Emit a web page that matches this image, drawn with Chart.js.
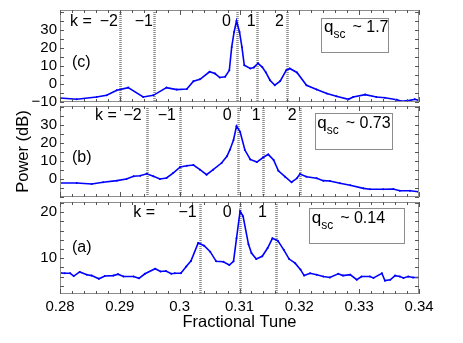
<!DOCTYPE html>
<html>
<head>
<meta charset="utf-8">
<script src="https://cdn.jsdelivr.net/npm/chart.js@4/dist/chart.umd.min.js"></script>
<style>
  html, body { margin: 0; padding: 0; background: #fff; }
  #wrap { position: relative; width: 463px; height: 343px; }
  canvas { position: absolute; left: 0; }
</style>
</head>
<body>
<div id="wrap">
  <canvas id="panelC" width="463" height="112" style="top:0px"></canvas>
  <canvas id="panelB" width="463" height="104" style="top:100px"></canvas>
  <canvas id="panelA" width="463" height="147" style="top:196px"></canvas>
</div>
<script>
// x axis
const xTickValues = [0.28, 0.29, 0.30, 0.31, 0.32, 0.33, 0.34];
const xTickLabels = ['0.28', '0.29', '0.3', '0.31', '0.32', '0.33', '0.34'];

// panel (c), q_sc ~ 1.7
const tuneC = [0.2800, 0.2828, 0.2861, 0.2878, 0.2895, 0.2914, 0.2939, 0.2956, 0.2978, 0.2995,
  0.3012, 0.3023, 0.3034, 0.3050, 0.3059, 0.3067, 0.3076, 0.3083, 0.3087, 0.3091,
  0.3095, 0.3100, 0.3104, 0.3108, 0.3118, 0.3124, 0.3131, 0.3138, 0.3144, 0.3151,
  0.3159, 0.3168, 0.3178, 0.3184, 0.3196, 0.3212, 0.3229, 0.3246, 0.3262, 0.3282,
  0.3290, 0.3310, 0.3329, 0.3343, 0.3363, 0.3371, 0.3385, 0.3393, 0.3400];
const powerC = [-7.8, -8.5, -7.2, -6.3, -3.5, -2.0, -7.2, -6.3, -2.0, -3.1,
  -2.8, 1.5, 2.6, 6.8, 5.8, 3.6, 4.0, 7.6, 20.6, 28.9,
  35.0, 28.9, 20.6, 10.4, 8.6, 9.2, 11.5, 9.4, 6.5, 2.1,
  -0.7, 1.6, 7.6, 8.6, 6.4, -0.7, -3.1, -5.3, -6.8, -8.5,
  -7.2, -5.9, -7.2, -7.6, -8.7, -9.6, -9.1, -8.5, -9.1];
const yTicksC = [-10, 0, 10, 20, 30];
const kTunesC = [0.2900, 0.2957, 0.3095, 0.3129, 0.3180];
const kNamesC = ['−2', '−1', '0', '1', '2'];
const qC = '1.7';

// panel (b), q_sc ~ 0.73
const tuneB = [0.2800, 0.2828, 0.2853, 0.2872, 0.2895, 0.2911, 0.2923, 0.2934, 0.2945, 0.2956,
  0.2967, 0.2978, 0.2989, 0.3001, 0.3012, 0.3023, 0.3034, 0.3045, 0.3056, 0.3070,
  0.3079, 0.3084, 0.3090, 0.3095, 0.3101, 0.3109, 0.3118, 0.3129, 0.3140, 0.3148,
  0.3157, 0.3165, 0.3176, 0.3187, 0.3196, 0.3201, 0.3212, 0.3229, 0.3240, 0.3251,
  0.3268, 0.3285, 0.3307, 0.3318, 0.3340, 0.3357, 0.3368, 0.3385, 0.3399];
const powerB = [-2.2, -2.2, -2.8, -1.8, -0.9, 0.0, 1.5, 1.8, 2.9, 1.5,
  0.0, 0.6, 3.3, 6.7, 7.4, 7.8, 5.2, 2.4, 5.2, 8.9,
  12.6, 16.3, 21.7, 29.4, 26.3, 16.1, 10.9, 9.4, 12.1, 13.7,
  10.6, 4.6, 1.3, -1.8, 0.4, 2.8, 1.3, 0.4, -0.9, -1.1,
  -2.4, -3.5, -5.2, -5.7, -5.7, -5.6, -6.5, -6.5, -7.1];
const yTicksB = [0, 10, 20, 30];
const kTunesB = [0.2945, 0.3001, 0.3097, 0.3139, 0.3201];
const kNamesB = ['−2', '−1', '0', '1', '2'];
const qB = '0.73';

// panel (a), q_sc ~ 0.14
const tuneA = [0.2800, 0.2808, 0.2817, 0.2823, 0.2833, 0.2845, 0.2853, 0.2865, 0.2875, 0.2889,
  0.2897, 0.2906, 0.2923, 0.2932, 0.2942, 0.2959, 0.2968, 0.2977, 0.2986, 0.2992,
  0.3002, 0.3011, 0.3019, 0.3031, 0.3041, 0.3051, 0.3061, 0.3073, 0.3083, 0.3090,
  0.3095, 0.3101, 0.3106, 0.3115, 0.3120, 0.3128, 0.3138, 0.3147, 0.3155, 0.3164,
  0.3174, 0.3183, 0.3193, 0.3202, 0.3208, 0.3218, 0.3229, 0.3240, 0.3251, 0.3265,
  0.3273, 0.3285, 0.3296, 0.3304, 0.3318, 0.3324, 0.3338, 0.3343, 0.3352, 0.3360,
  0.3368, 0.3374, 0.3382, 0.3390, 0.3400];
const powerA = [6.8, 6.7, 6.7, 6.1, 7.0, 6.4, 6.2, 5.5, 6.1, 6.2,
  6.5, 6.0, 6.0, 5.6, 6.6, 7.7, 7.1, 7.2, 6.6, 6.7,
  6.7, 8.2, 9.4, 13.3, 12.7, 11.4, 9.3, 9.2, 8.5, 9.3,
  14.3, 20.2, 19.1, 13.0, 11.1, 9.8, 10.4, 12.2, 14.3, 13.8,
  11.8, 9.8, 8.9, 7.5, 6.2, 6.7, 6.4, 6.0, 5.8, 6.6,
  6.2, 6.4, 5.3, 6.0, 6.0, 5.7, 6.7, 5.1, 5.3, 6.2,
  6.0, 5.7, 6.0, 5.8, 5.8];
const yTicksA = [10, 20];
const kTunesA = [0.3034, 0.3101, 0.3161];
const kNamesA = ['−1', '0', '1'];
const qA = '0.14';

const FONT = '"Liberation Sans", Arial, Helvetica, sans-serif';
Chart.defaults.font.family = FONT;
Chart.defaults.color = '#000';

const fmtY = v => (v < 0 ? '−' + Math.abs(v) : String(v));

// dotted k lines, box frame with inward ticks, labels and the q_sc box
const panelDeco = {
  id: 'panelDeco',
  beforeDatasetsDraw(chart, args, o) {
    const { ctx, chartArea: a, scales: { x } } = chart;
    ctx.save();
    ctx.strokeStyle = '#8a8a8a';
    ctx.lineWidth = 2.5;
    ctx.setLineDash([1, 1]);
    o.kTunes.forEach(t => {
      const px = Math.round(x.getPixelForValue(t)) + 0.5;
      ctx.beginPath();
      ctx.moveTo(px, a.top);
      ctx.lineTo(px, a.bottom);
      ctx.stroke();
    });
    ctx.restore();
  },
  afterDatasetsDraw(chart, args, o) {
    const { ctx, chartArea: a, scales: { x, y } } = chart;
    ctx.save();

    ctx.strokeStyle = '#8c8c8c';
    ctx.lineWidth = 1;
    ctx.strokeRect(a.left + 0.5, a.top + 0.5, a.width - 1, a.height - 1);

    ctx.strokeStyle = '#555';
    ctx.beginPath();
    for (let i = 0; i <= 30; i++) {
      const t = 0.28 + i * 0.002;
      const px = Math.round(x.getPixelForValue(t)) + 0.5;
      const len = i % 5 === 0 ? 5 : 3;
      ctx.moveTo(px, a.top); ctx.lineTo(px, a.top + len);
      ctx.moveTo(px, a.bottom); ctx.lineTo(px, a.bottom - len);
    }
    for (let v = Math.ceil(y.min / o.yStep) * o.yStep; v <= y.max + 1e-9; v += o.yStep) {
      const py = Math.round(y.getPixelForValue(v)) + 0.5;
      ctx.moveTo(a.left, py); ctx.lineTo(a.left + 4, py);
      ctx.moveTo(a.right, py); ctx.lineTo(a.right - 4, py);
    }
    ctx.stroke();

    ctx.fillStyle = '#000';
    ctx.font = '16px ' + FONT;
    ctx.textBaseline = 'middle';
    ctx.textAlign = 'left';
    ctx.fillText('k =', x.getPixelForValue(o.kEqTune), a.top + o.kY);
    ctx.textAlign = 'right';
    o.kNames.forEach((n, i) => ctx.fillText(n, x.getPixelForValue(o.kNameTunes[i]), a.top + o.kY));
    ctx.textAlign = 'left';
    ctx.fillText(o.tag, x.getPixelForValue(o.tagTune), a.top + o.tagY);

    const bx0 = x.getPixelForValue(o.box[0]);
    const bx1 = x.getPixelForValue(o.box[1]);
    ctx.strokeStyle = '#8c8c8c';
    ctx.strokeRect(Math.round(bx0) + 0.5, Math.round(a.top + o.box[2]) + 0.5,
      Math.round(bx1 - bx0), Math.round(o.box[3] - o.box[2]));

    ctx.textBaseline = 'alphabetic';
    let qx = x.getPixelForValue(o.qTune);
    const base = a.top + o.qBase;
    ctx.font = '17px ' + FONT;
    ctx.fillText('q', qx, base);
    qx += ctx.measureText('q').width;
    ctx.font = '12px ' + FONT;
    ctx.fillText('sc', qx, base + 6);
    qx += ctx.measureText('sc').width + 3;
    ctx.font = '16px ' + FONT;
    ctx.fillText('~ ' + o.q, qx + 4, base);
    ctx.restore();
  }
};

function buildPanel(id, tune, power, yMin, yMax, yTicks, deco, padding, bottomAxis, yTitle) {
  return new Chart(document.getElementById(id), {
    type: 'line',
    data: {
      datasets: [{
        data: tune.map((t, i) => ({ x: t, y: power[i] })),
        borderColor: '#0000ff',
        borderWidth: 1.6,
        pointRadius: 1,
        pointBackgroundColor: '#0000ff',
        pointBorderWidth: 0,
        tension: 0
      }]
    },
    options: {
      responsive: false,
      animation: false,
      devicePixelRatio: 1,
      layout: { padding },
      plugins: { legend: { display: false }, tooltip: { enabled: false }, panelDeco: deco },
      scales: {
        x: {
          type: 'linear', min: 0.28, max: 0.34, display: bottomAxis,
          grid: { display: false, drawTicks: false }, border: { display: false },
          afterBuildTicks: s => { s.ticks = xTickValues.map(v => ({ value: v })); },
          ticks: { padding: 4, maxRotation: 0, autoSkip: false, font: { size: 15 },
            callback: (v, i) => xTickLabels[i] },
          title: { display: bottomAxis, text: 'Fractional Tune', font: { size: 16.5 },
            padding: { top: 0, bottom: 11 } },
          afterFit: s => {
            if (bottomAxis) s.height = 49;
            s.paddingLeft = 0; s.paddingRight = 0;
          }
        },
        y: {
          min: yMin, max: yMax,
          grid: { display: false, drawTicks: false }, border: { display: false },
          afterBuildTicks: s => { s.ticks = yTicks.map(v => ({ value: v })); },
          ticks: { padding: 3, font: { size: 15 }, callback: v => fmtY(v) },
          title: { display: yTitle, text: 'Power (dB)', font: { size: 16.5 },
            padding: { top: 14, bottom: 0 } },
          afterFit: s => { s.width = 60; s.paddingTop = 0; s.paddingBottom = 0; }
        }
      }
    },
    plugins: [panelDeco]
  });
}

buildPanel('panelC', tuneC, powerC, -10, 41.1, yTicksC, {
  kTunes: kTunesC, kNames: kNamesC, kNameTunes: [0.28969, 0.29554, 0.30858, 0.31268, 0.31744],
  kEqTune: 0.28167, kY: 11.7, tag: '(c)', tagTune: 0.28201, tagY: 52.5,
  q: qC, box: [0.32357, 0.33478, 8.3, 42.7], qTune: 0.32412, qBase: 22.3, yStep: 5
}, { top: 10, bottom: 10, left: 0, right: 44 }, false, false);

buildPanel('panelB', tuneB, powerB, -10, 40.6, yTicksB, {
  kTunes: kTunesB, kNames: kNamesB, kNameTunes: [0.29366, 0.29939, 0.30870, 0.31355, 0.31956],
  kEqTune: 0.28585, kY: 10, tag: '(b)', tagTune: 0.28201, tagY: 51.5,
  q: qB, box: [0.32262, 0.33550, 7.3, 43], qTune: 0.32300, qBase: 22.3, yStep: 5
}, { top: 6, bottom: 7, left: 0, right: 44 }, false, true);

buildPanel('panelA', tuneA, powerA, 2.2, 22.2, yTicksA, {
  kTunes: kTunesA, kNames: kNamesA, kNameTunes: [0.30285, 0.30870, 0.31460],
  kEqTune: 0.29225, kY: 10.5, tag: '(a)', tagTune: 0.28201, tagY: 45.5,
  q: qA, box: [0.32162, 0.33755, 6.3, 41.3], qTune: 0.32207, qBase: 21.3, yStep: 2
}, { top: 6, bottom: 0, left: 0, right: 44 }, true, false);
</script>
</body>
</html>
